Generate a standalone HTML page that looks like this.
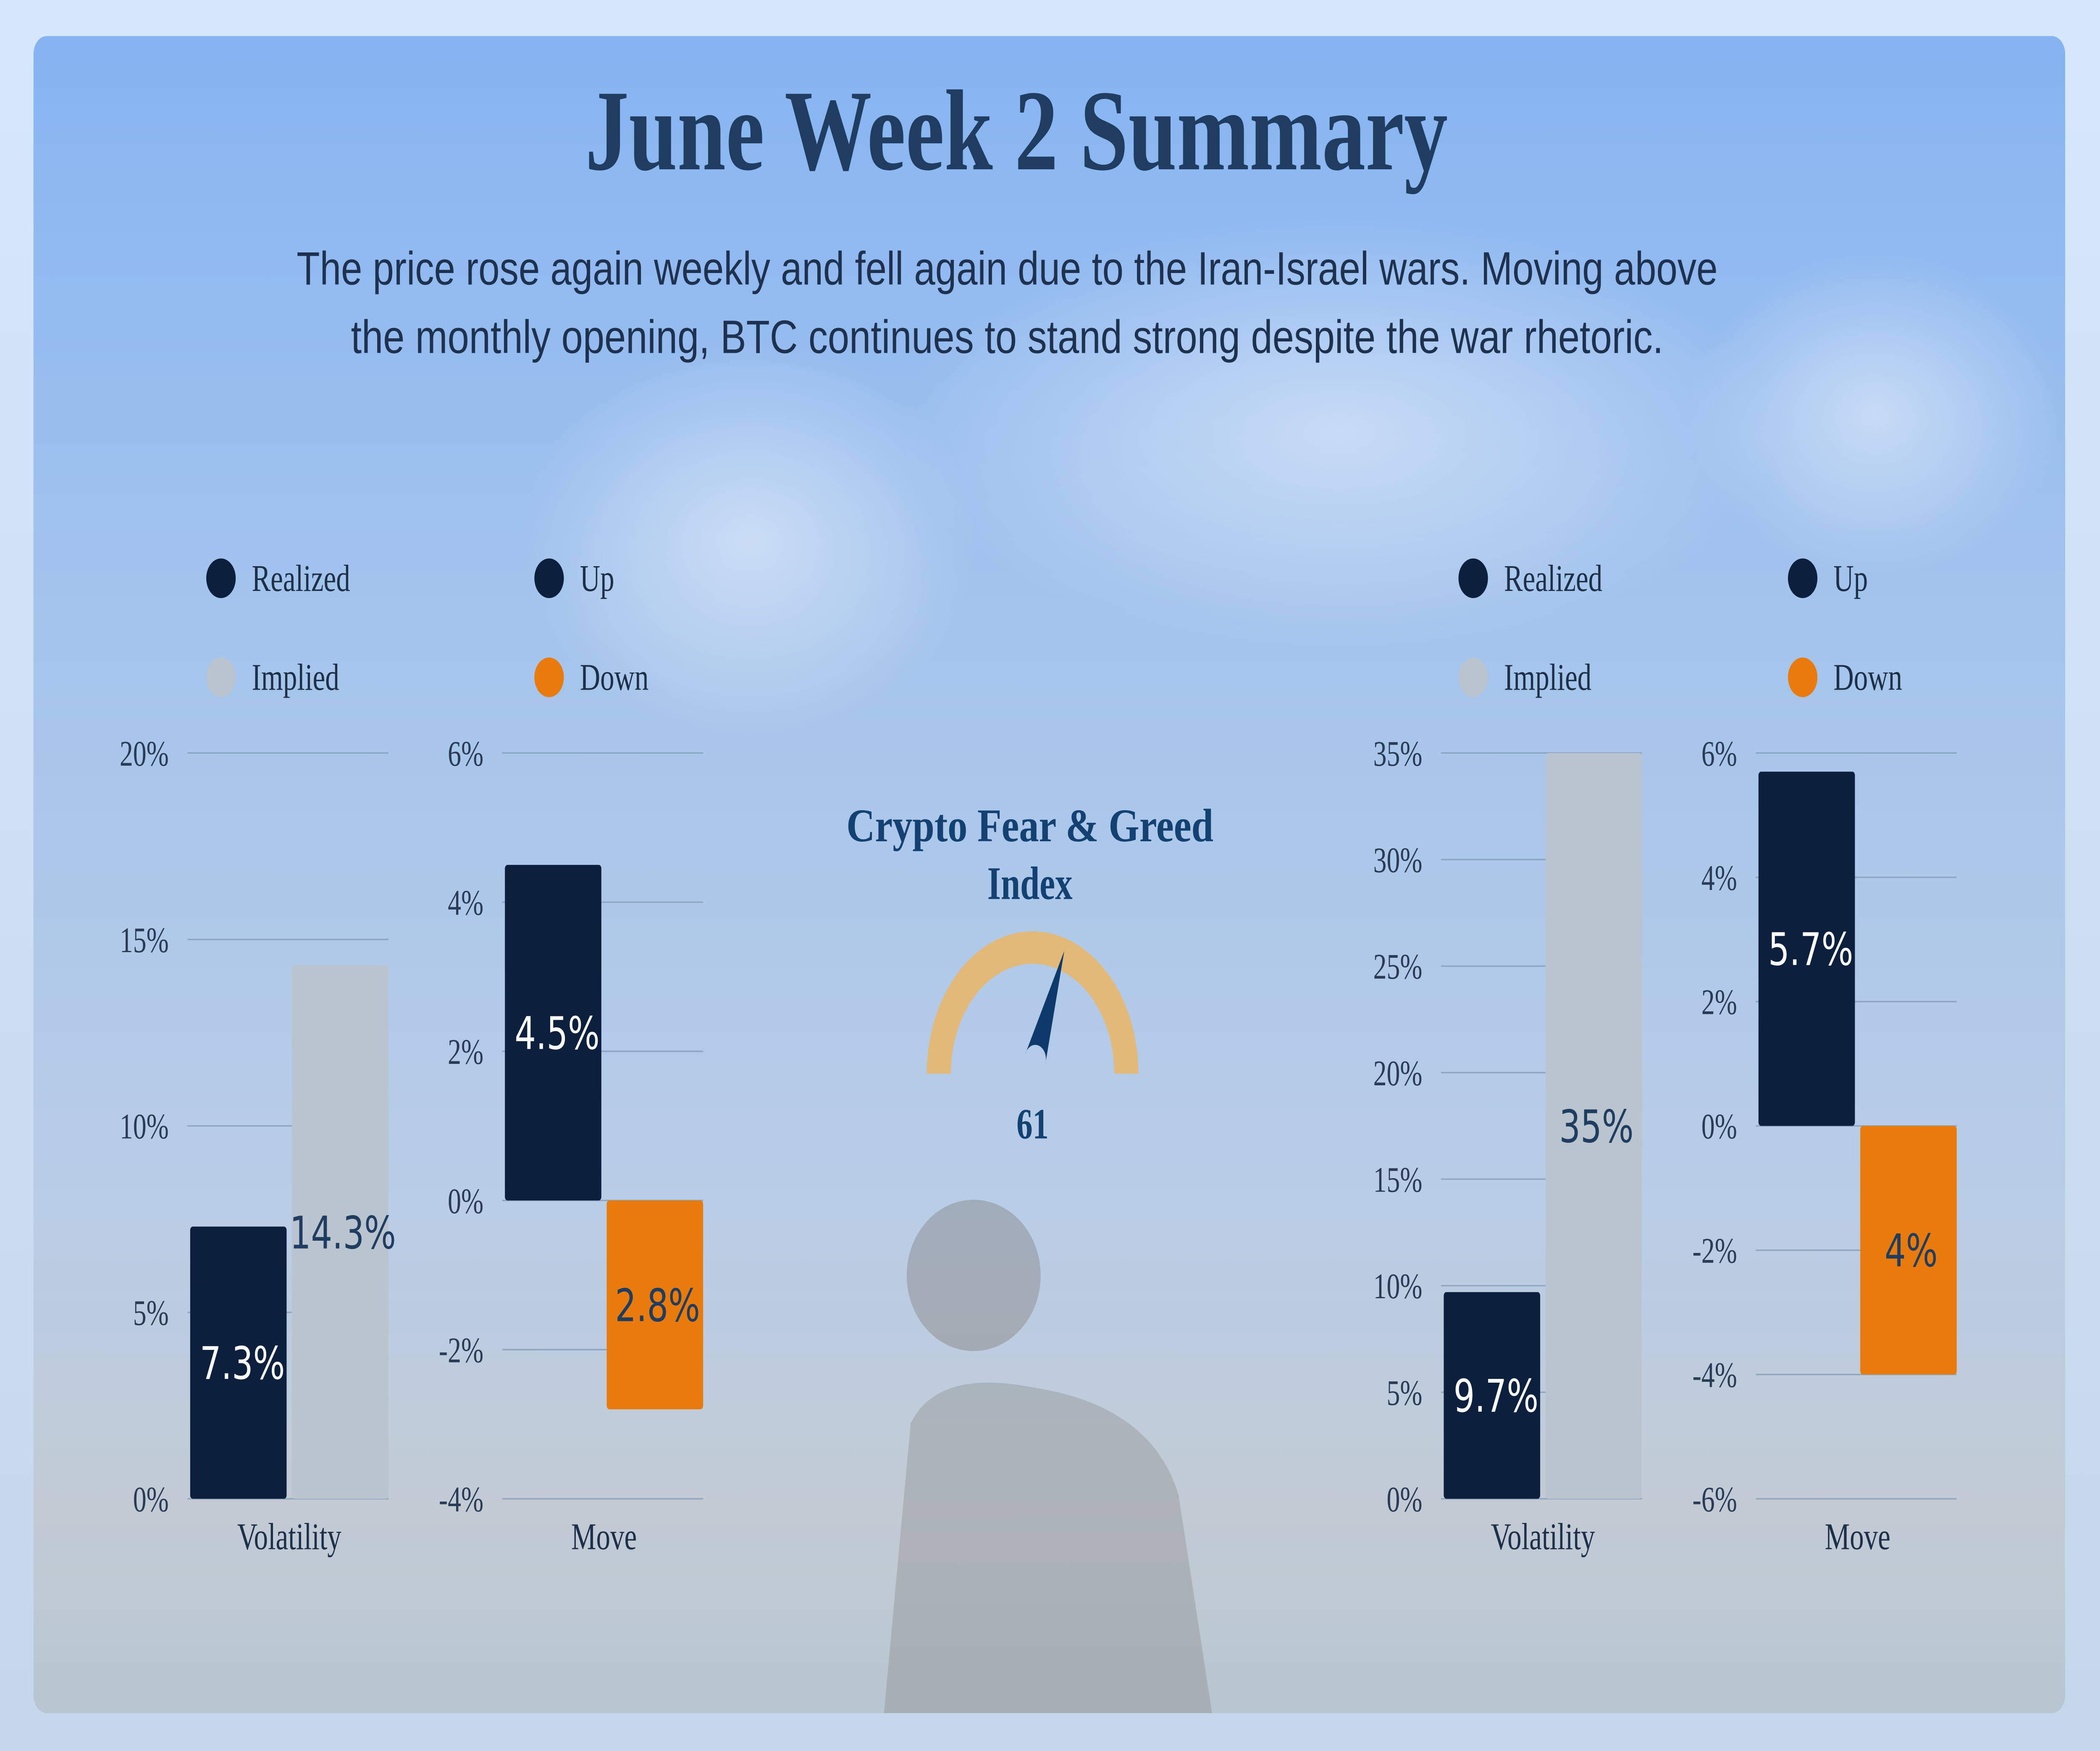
<!DOCTYPE html>
<html><head><meta charset="utf-8"><style>
html,body{margin:0;padding:0;background:#cfe2f5;width:100%;height:100%;overflow:hidden;}
svg{display:block;width:100vw;height:100vh;}
</style></head><body>
<svg id="root" viewBox="0 0 1568 972" preserveAspectRatio="none" xmlns="http://www.w3.org/2000/svg">
<defs>
<linearGradient id="outer" x1="0" y1="0" x2="0" y2="1"><stop offset="0" stop-color="#d6e8fa"/><stop offset="1" stop-color="#c4d8ea"/></linearGradient>
<linearGradient id="card" x1="0" y1="0" x2="0" y2="1">
<stop offset="0" stop-color="#86b4f2"/><stop offset="0.35" stop-color="#a4c4ec"/><stop offset="0.7" stop-color="#b9cde6"/><stop offset="0.88" stop-color="#c2cbd4"/><stop offset="1" stop-color="#b8c6d2"/></linearGradient>
<radialGradient id="cloud" cx="0.5" cy="0.5" r="0.5"><stop offset="0" stop-color="#ffffff" stop-opacity="0.45"/><stop offset="1" stop-color="#ffffff" stop-opacity="0"/></radialGradient>
</defs>
<rect x="0" y="0" width="1568" height="972" fill="url(#outer)"/>
<rect x="25" y="20" width="1517" height="931" rx="10" fill="url(#card)"/>
<ellipse cx="560" cy="300" rx="170" ry="110" fill="url(#cloud)"/>
<ellipse cx="1000" cy="240" rx="330" ry="120" fill="url(#cloud)"/>
<ellipse cx="1400" cy="230" rx="140" ry="90" fill="url(#cloud)"/>
<g opacity="0.25">
<ellipse cx="727" cy="708" rx="50" ry="42" fill="#5a4a3c"/>
<path d="M680 790 Q700 760 770 770 Q860 780 880 830 L905 951 L660 951 Z" fill="#6f6a62"/>
</g>

<text x="759" y="94" text-anchor="middle" textLength="644" lengthAdjust="spacingAndGlyphs" font-family="Liberation Serif, serif" font-weight="bold" font-size="64" fill="#1f3d60">June Week 2 Summary</text>
<text x="752" y="158" text-anchor="middle" textLength="1061" lengthAdjust="spacingAndGlyphs" font-family="Liberation Sans, sans-serif" font-size="26" fill="#1e3250">The price rose again weekly and fell again due to the Iran-Israel wars. Moving above</text>
<text x="752" y="196" text-anchor="middle" textLength="980" lengthAdjust="spacingAndGlyphs" font-family="Liberation Sans, sans-serif" font-size="26" fill="#1e3250">the monthly opening, BTC continues to stand strong despite the war rhetoric.</text>

<g id="charts"></g>

<g>
<text x="769" y="467" text-anchor="middle" textLength="274" lengthAdjust="spacingAndGlyphs" font-family="Liberation Serif, serif" font-weight="bold" font-size="26" fill="#134272">Crypto Fear &amp; Greed</text>
<text x="769" y="499" text-anchor="middle" font-family="Liberation Serif, serif" font-weight="bold" font-size="26" fill="#134272">Index</text>
<path d="M692 596 A79 79 0 0 1 850 596 L832 596 A61 61 0 0 0 710 596 Z" fill="#e2b978"/>
<g id="needle"></g>
<text id="gauge-value" x="771" y="632" text-anchor="middle" font-family="Liberation Serif, serif" font-weight="bold" font-size="24" fill="#134272">61</text>
</g>
</svg>
<script>
const NS='http://www.w3.org/2000/svg';
// Chart data
const volCategories=['Realized','Implied'];
const moveCategories=['Up','Down'];
const leftVolValues=[7.3,14.3];
const leftVolTicks=[0,5,10,15,20];
const leftMoveValues=[4.5,-2.8];
const leftMoveTicks=[-4,-2,0,2,4,6];
const rightVolValues=[9.7,35];
const rightVolTicks=[0,5,10,15,20,25,30,35];
const rightMoveValues=[5.7,-4];
const rightMoveTicks=[-6,-4,-2,0,2,4,6];
const fearGreedValue=61;

const colorsVol=['#0c1f3d','#b9c4cf'];
const colorsMove=['#0c1f3d','#e87b0c'];
const textVol=['#ffffff','#1f3d60'];
const textMove=['#ffffff','#1f3d60'];

function el(tag,attrs,parent){const e=document.createElementNS(NS,tag);for(const k in attrs)e.setAttribute(k,attrs[k]);parent.appendChild(e);return e;}
function fmt(v){return (Math.round(Math.abs(v)*10)/10)+'%';}

function chart(cfg){
  const g=el('g',{},document.getElementById('charts'));
  
  
  const ticks=cfg.ticks, mn=Math.min(...ticks), mx=Math.max(...ticks);
  const y=v=>832-(v-mn)/(mx-mn)*(832-418);
  ticks.forEach(t=>{
    const ln=el('line',{x1:cfg.gx,x2:cfg.gx+150,y1:y(t),y2:y(t),stroke:'#7f95b0','stroke-width':0.8,'stroke-opacity':0.7},g);
    
    
    const tx=el('text',{x:cfg.gx-14,y:y(t)+7,'text-anchor':'end','font-family':'Liberation Serif, serif','font-size':20,fill:'#2a3b55'},g);
    
    
    tx.textContent=t+'%';
  });
  cfg.values.forEach((v,i)=>{
    const x=cfg.gx+2+i*76, y0=y(0), y1=y(v);
    const top=Math.min(y0,y1), h=Math.abs(y1-y0);
    const r=el('rect',{x:x,y:top,width:72,height:h,rx:2,fill:cfg.colors[i]},g);
    
    
    const t=el('text',{x:x+36+(i===1?2:3),y:top+h/2+9,'text-anchor':'middle','font-family':'DejaVu Sans, sans-serif','font-size':25,fill:cfg.tcol[i]},g);
    
    
    t.textContent=fmt(v);
    const d=el('circle',{cx:cfg.lx,cy:321+i*55,r:11,fill:cfg.colors[i]},g);
    
    
    const lt=el('text',{x:cfg.lx+23,y:328+i*55,'font-family':'Liberation Serif, serif','font-size':21,fill:'#1e2f48'},g);
    
    
    lt.textContent=cfg.cats[i];
  });
  const xl=el('text',{x:cfg.gx+76,y:860,'text-anchor':'middle','font-family':'Liberation Serif, serif','font-size':21,fill:'#1e2f48'},g);
  
  
  xl.textContent=cfg.xlabel;
}
chart({name:'left-volatility-chart',gx:140,ticks:leftVolTicks,values:leftVolValues,cats:volCategories,colors:colorsVol,tcol:textVol,lx:165,xlabel:'Volatility'});
chart({name:'left-move-chart',gx:375,ticks:leftMoveTicks,values:leftMoveValues,cats:moveCategories,colors:colorsMove,tcol:textMove,lx:410,xlabel:'Move'});
chart({name:'right-volatility-chart',gx:1076,ticks:rightVolTicks,values:rightVolValues,cats:volCategories,colors:colorsVol,tcol:textVol,lx:1100,xlabel:'Volatility'});
chart({name:'right-move-chart',gx:1311,ticks:rightMoveTicks,values:rightMoveValues,cats:moveCategories,colors:colorsMove,tcol:textMove,lx:1346,xlabel:'Move'});

// gauge needle
(function(){
  const cx=773, cy=588, L=64;
  const ang=Math.PI*(1-fearGreedValue/100);
  const tx=cx+L*Math.cos(ang), ty=cy-L*Math.sin(ang);
  const px=-Math.sin(ang), py=-Math.cos(ang);
  const w=8;
  const n=el('path',{d:`M${cx+px*w} ${cy+py*w} L${tx} ${ty} L${cx-px*w} ${cy-py*w} A8 8 0 0 0 ${cx+px*w} ${cy+py*w} Z`,fill:'#0d3a6a'},document.getElementById('needle'));
  
  
  document.getElementById('gauge-value').textContent=fearGreedValue;
})();
</script>
</body></html>
